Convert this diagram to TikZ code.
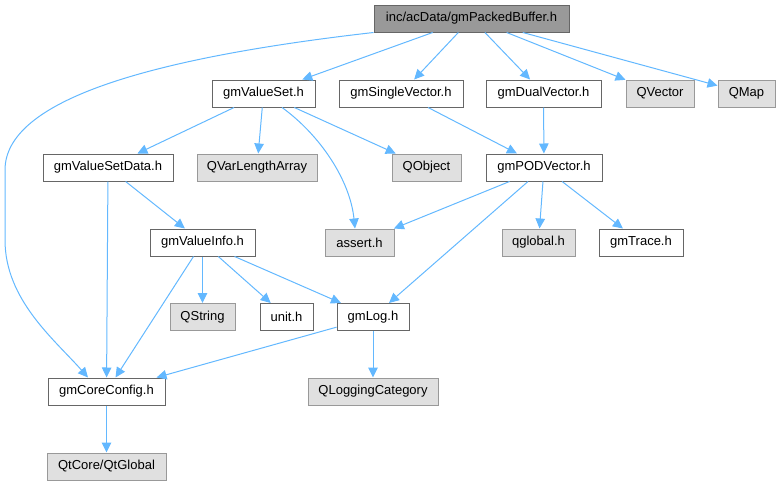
\documentclass[tikz,border=0pt]{standalone}
\usepackage{fontspec}
\setmainfont{Liberation Sans}
\usetikzlibrary{arrows.meta}
\definecolor{edgeblue}{HTML}{63B8FF}
\definecolor{boxline}{HTML}{666666}
\definecolor{extline}{HTML}{999999}
\definecolor{extfill}{HTML}{E0E0E0}
\definecolor{rootfill}{HTML}{999999}

\begin{document}
\begin{tikzpicture}[
        x=1pt, y=-1pt,
        every node/.style={
            rectangle,
            draw=boxline,
            line width=1pt,
            fill=white,
            text=black,
            inner sep=0pt,
            minimum height=27pt,
            font=\fontsize{13}{15}\selectfont
        },
        ext/.style={
            draw=extline,
            fill=extfill
        },
        root/.style={
            fill=rootfill
        },
        arrow/.style={
            ->,
            >={Triangle[length=10pt,width=9.5pt]},
            line width=1pt,
            color=edgeblue
        }
    ]
        \useasboundingbox (0,0) rectangle (780,485);

        % Top level
        \node (root) [root, minimum width=195pt] at (471.5,18.5) {inc/acData/gmPackedBuffer.h};

        % Row 1
        \node (vset) [minimum width=103pt] at (263.5,93.5) {gmValueSet.h};
        \node (svec) [minimum width=124pt] at (401,93.5) {gmSingleVector.h};
        \node (dvec) [minimum width=115pt] at (543.5,93.5) {gmDualVector.h};
        \node (qvector) [ext, minimum width=68pt] at (660,93.5) {QVector};
        \node (qmap) [ext, minimum width=57pt] at (746.5,93.5) {QMap};

        % Row 2
        \node (vsdata) [minimum width=130pt] at (108,167.5) {gmValueSetData.h};
        \node (qvla) [ext, minimum width=120pt] at (257,167.5) {QVarLengthArray};
        \node (qobject) [ext, minimum width=69pt] at (426.5,167.5) {QObject};
        \node (podvec) [minimum width=116pt] at (544,167.5) {gmPODVector.h};

        % Row 3
        \node (vinfo) [minimum width=105pt] at (202.5,242.5) {gmValueInfo.h};
        \node (assert) [ext, minimum width=69pt] at (359.5,242.5) {assert.h};
        \node (qglobal) [ext, minimum width=73pt] at (538.5,242.5) {qglobal.h};
        \node (trace) [minimum width=84pt] at (641,242.5) {gmTrace.h};

        % Row 4
        \node (qstring) [ext, minimum width=65pt] at (202.5,317) {QString};
        \node (unit) [minimum width=53pt] at (286.5,317) {unit.h};
        \node (log) [minimum width=72pt] at (373,317) {gmLog.h};

        % Row 5 and 6
        \node (core) [minimum width=117pt] at (106.5,391.5) {gmCoreConfig.h};
        \node (qlog) [ext, minimum width=130pt] at (373,391.5) {QLoggingCategory};
        \node (qtglobal) [ext, minimum width=119pt] at (106.5,466.5) {QtCore/QtGlobal};

        % Edges from the top file
        \draw[arrow] (root) -- (vset);
        \draw[arrow] (root) -- (svec);
        \draw[arrow] (root) -- (dvec);
        \draw[arrow] (root) -- (qvector);
        \draw[arrow] (root) -- (qmap);
        \draw[arrow] (root.south west) .. controls (150,58) and (5,100) .. (5,170)
            -- (5,240) .. controls (5,300) and (55,340) .. ([xshift=-18.5pt]core.north);

        % gmValueSet.h
        \draw[arrow] (vset) -- (vsdata);
        \draw[arrow] (vset) -- (qvla);
        \draw[arrow] (vset) -- (qobject);
        \draw[arrow] ([xshift=18.5pt]vset.south) .. controls (320,135) and (350,180) .. ([xshift=-4.5pt]assert.north);

        % Vectors
        \draw[arrow] (svec) -- (podvec);
        \draw[arrow] (dvec) -- (podvec);
        \draw[arrow] (podvec) -- (assert);
        \draw[arrow] (podvec) -- (log);
        \draw[arrow] (podvec) -- (qglobal);
        \draw[arrow] (podvec) -- (trace);

        % Value data and info
        \draw[arrow] (vsdata) -- (core);
        \draw[arrow] (vsdata) -- (vinfo);
        \draw[arrow] (vinfo) -- (core);
        \draw[arrow] (vinfo) -- (qstring);
        \draw[arrow] (vinfo) -- (unit);
        \draw[arrow] (vinfo) -- (log);

        % Logging and config
        \draw[arrow] (log) -- (core);
        \draw[arrow] (log) -- (qlog);
        \draw[arrow] (core) -- (qtglobal);
    \end{tikzpicture}
\end{document}
